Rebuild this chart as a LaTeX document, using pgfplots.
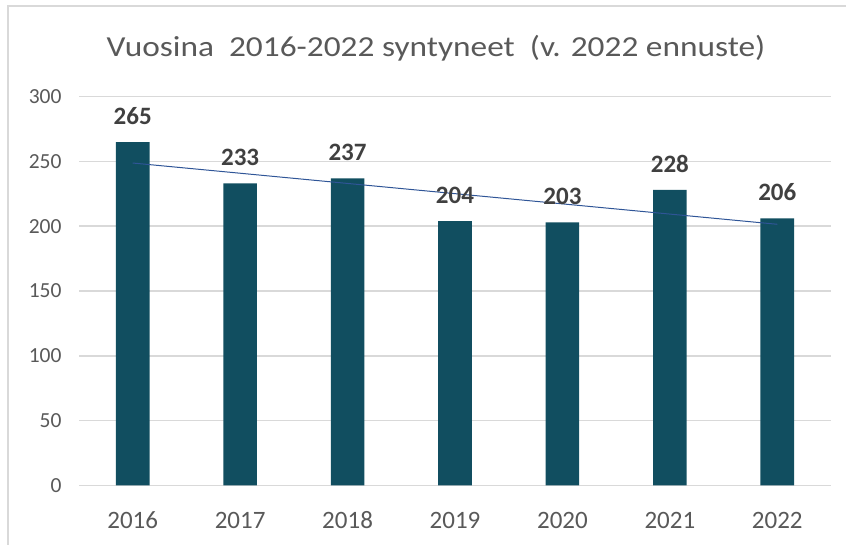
\documentclass[border=0pt]{standalone}
\usepackage{pgfplots}
\pgfplotsset{compat=1.18}
\usepackage{fontspec}
\setmainfont{Carlito}
\definecolor{barcol}{HTML}{114E60}
\definecolor{trend}{HTML}{2F5597}
\definecolor{gridc}{HTML}{D9D9D9}
\definecolor{txt}{HTML}{595959}
\definecolor{lbl}{HTML}{404040}

\begin{document}
\begin{tikzpicture}[x=1pt,y=1pt]
\useasboundingbox (0,0) rectangle (846,545);
\draw[gridc, line width=1.5pt] (8,0) -- (8,539) -- (846,539);
% title, a little wider than Carlito sets it
\node[txt, font=\fontsize{29}{30}\selectfont, anchor=base, inner sep=0pt, xscale=1.15]
  at (436,488) {Vuosina\ \ 2016-2022 syntyneet\ \ (v. 2022 ennuste)};
\begin{axis}[
  at={(79pt,59.7pt)}, anchor=south west,
  scale only axis, width=752pt, height=388.6pt,
  xmin=-0.5, xmax=6.5, ymin=0, ymax=300,
  ytick={0,50,...,300},
  xtick={0,...,6}, xticklabels={2016,2017,2018,2019,2020,2021,2022},
  axis line style={draw=none},
  major tick length=0pt,
  ymajorgrids, grid style={gridc, line width=1.5pt},
  /pgf/number format/assume math mode=true,
  yticklabel style={txt, font=\fontsize{21.5}{22}\selectfont, xshift=-14pt},
  xticklabel style={txt, font=\fontsize{25}{25}\selectfont, anchor=base, yshift=-43pt},
  clip=false,
]
\addplot[ybar, bar width=33.6pt, fill=barcol, draw=none,
  nodes near coords,
  nodes near coords style={lbl, font=\bfseries\fontsize{25}{25}\selectfont, anchor=base, yshift=17.7pt, inner sep=0pt}]
  coordinates {(0,265) (1,233) (2,237) (3,204) (4,203) (5,228) (6,206)};
\addplot[trend, line width=1pt, mark=none] coordinates {(0,248.8) (6,201.5)};
\end{axis}
\end{tikzpicture}
\end{document}
